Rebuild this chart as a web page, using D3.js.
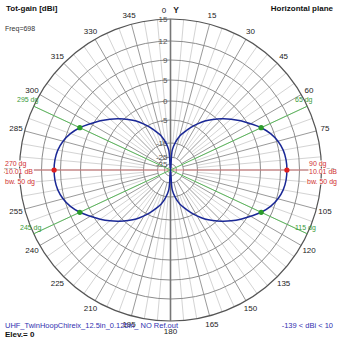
<!DOCTYPE html>
<html><head><meta charset="utf-8">
<script src="https://cdn.jsdelivr.net/npm/d3@7"></script>
<style>body{margin:0;background:#fff}svg{display:block}text{font-family:"Liberation Sans",Arial,sans-serif}</style>
</head><body>
<script>
// ---- data ----
const azimuths = [0,5,10,15,20,25,30,35,40,45,50,55,60,65,70,75,80,85,90,95,100,105,110,115,120,125,130,135,140,145,150,155,160,165,170,175,
                  180,185,190,195,200,205,210,215,220,225,230,235,240,245,250,255,260,265,270,275,280,285,290,295,300,305,310,315,320,325,330,335,340,345,350,355];
const gains = [-139,-20,-14.5,-11.5,-9.2,-6.5,-4.2,-2.4,-0.8,0.8,2.4,4.0,5.5,7.01,8.3,9.2,9.7,9.95,10.01,9.95,9.7,9.2,8.3,7.01,5.5,4.0,2.4,0.8,-0.8,-2.4,-4.2,-6.5,-9.2,-11.5,-14.5,-20,
               -139,-20,-14.5,-11.5,-9.2,-6.5,-4.2,-2.4,-0.8,0.8,2.4,4.0,5.5,7.01,8.3,9.2,9.7,9.95,10.01,9.95,9.7,9.2,8.3,7.01,5.5,4.0,2.4,0.8,-0.8,-2.4,-4.2,-6.5,-9.2,-11.5,-14.5,-20];
const ringValues = [15,12,9,5,0,-5,-15,-25,-35];
const azLabels = [0,15,30,45,60,75,90,105,120,135,150,165,180,195,210,225,240,255,270,285,300,315,330,345];
const maxMarkers = [90,270];
const bwMarkers = [65,115,245,295];
const maxGain = 10.01, beamwidth = 50;
const title = "Tot-gain [dBi]", plane = "Horizontal plane", freq = "Freq=698";
const fileName = "UHF_TwinHoopChireix_12.5in_0.125in_ NO Ref.out";
const rangeText = "-139 < dBi < 10", elevText = "Elev.= 0";

// ---- layout ----
const W = 339, H = 339, cx = 170.5, cy = 170, R = 151;
const svg = d3.select("body").append("svg").attr("width", W).attr("height", H);
const g = svg.append("g").attr("transform", `translate(${cx},${cy})`);

// piecewise radial dB scale (ARRL-like)
const r = d3.scaleLinear()
  .domain([-45,-35,-25,-15,-5,0,5,9,12,15])
  .range([0,6,13,27,50,69,90,110,129,151].map(v => v / 151 * R))
  .clamp(true);
const rad = a => a * Math.PI / 180;
const px = (a, rr) => rr * Math.sin(rad(a));
const py = (a, rr) => -rr * Math.cos(rad(a));

// spokes
d3.range(0, 360, 5).forEach(a => {
  if (a % 180 === 0) return;
  const major = a % 15 === 0;
  const r0 = major ? r(-25) : r(-15);
  g.append("line")
    .attr("x1", px(a, r0)).attr("y1", py(a, r0))
    .attr("x2", px(a, R)).attr("y2", py(a, R))
    .attr("stroke", major ? "#9a9a9a" : "#d4d4d4").attr("stroke-width", 1);
});
// rings
ringValues.slice(1).forEach(v => {
  g.append("circle").attr("r", r(v)).attr("fill", "none").attr("stroke", "#8c8c8c").attr("stroke-width", 1);
});
g.append("circle").attr("r", r(15)).attr("fill", "none").attr("stroke", "#555").attr("stroke-width", 1.2);
g.append("circle").attr("r", 3).attr("fill", "none").attr("stroke", "#d8c8a8").attr("stroke-width", 1);

// 0-180 axis
g.append("line").attr("x1", 0).attr("y1", -R).attr("x2", 0).attr("y2", R)
  .attr("stroke", "#777").attr("stroke-width", 1.6);

// marker lines
g.append("line").attr("x1", px(270, R)).attr("y1", py(270, R)).attr("x2", px(90, R)).attr("y2", py(90, R))
  .attr("stroke", "#d98080").attr("stroke-width", 1);
[[65,245],[115,295]].forEach(([a,b]) => {
  g.append("line").attr("x1", px(a, R)).attr("y1", py(a, R)).attr("x2", px(b, R)).attr("y2", py(b, R))
    .attr("stroke", "#5cb85c").attr("stroke-width", 1);
});

// azimuth labels
azLabels.forEach(a => {
  let x = px(a, 160), y = py(a, 160);
  if (a === 0) { x = -6.5; y = -160; }
  if (a === 180) { y = 161; }
  g.append("text").attr("x", x).attr("y", y).attr("text-anchor", "middle").attr("dominant-baseline", "central")
    .attr("font-size", 8).attr("fill", "#222").text(a);
});
g.append("text").attr("x", 5.5).attr("y", -160).attr("text-anchor", "middle").attr("dominant-baseline", "central")
  .attr("font-size", 8.5).attr("font-weight", "bold").attr("fill", "#222").text("Y");

// ring labels
ringValues.forEach(v => {
  g.append("text").attr("x", -3).attr("y", -r(v)).attr("text-anchor", "end").attr("dominant-baseline", "central")
    .attr("font-size", 8).attr("fill", "#555").text(v);
});

// pattern
const pts = azimuths.map((a, i) => [rad(a), r(gains[i])]);
const line = d3.lineRadial().angle(d => d[0]).radius(d => d[1]).curve(d3.curveCatmullRomClosed.alpha(0.5));
g.append("path").attr("d", line(pts)).attr("fill", "none").attr("stroke", "#1a2896").attr("stroke-width", 1.5);

// marker dots
const gainAt = a => gains[azimuths.indexOf(a)];
maxMarkers.forEach(a => {
  g.append("circle").attr("cx", px(a, r(gainAt(a)))).attr("cy", py(a, r(gainAt(a)))).attr("r", 2.6).attr("fill", "#e02020");
});
bwMarkers.forEach(a => {
  g.append("circle").attr("cx", px(a, r(gainAt(a)))).attr("cy", py(a, r(gainAt(a)))).attr("r", 2.6).attr("fill", "#2a9a2a");
});

// label helper with white background
function bgText(x, y, txt, color, size, anchor) {
  const t = svg.append("text").attr("x", x).attr("y", y).attr("text-anchor", anchor || "start")
    .attr("dominant-baseline", "central").attr("font-size", size).attr("fill", color).text(txt);
  const bb = t.node().getBBox();
  svg.insert("rect", function(){ return t.node(); })
    .attr("x", bb.x - 0.5).attr("y", bb.y + 1).attr("width", bb.width + 1).attr("height", bb.height - 2).attr("fill", "#fff");
  return t;
}
// max markers text
bgText(5, 163, "270 dg", "#d03030", 7);
bgText(5, 171, maxGain.toFixed(2) + " dB", "#d03030", 7);
bgText(5, 181, "bw. " + beamwidth + " dg", "#d03030", 7);
bgText(309, 163, "90 dg", "#d03030", 7);
bgText(309, 171, maxGain.toFixed(2) + " dB", "#d03030", 7);
bgText(307, 181, "bw. " + beamwidth + " dg", "#d03030", 7);
// bw markers text
svg.append("text").attr("x", 17).attr("y", 99).attr("dominant-baseline", "central").attr("font-size", 7).attr("fill", "#3a9a3a").text("295 dg");
svg.append("text").attr("x", 295).attr("y", 99).attr("dominant-baseline", "central").attr("font-size", 7).attr("fill", "#3a9a3a").text("65 dg");
svg.append("text").attr("x", 20).attr("y", 227).attr("dominant-baseline", "central").attr("font-size", 7).attr("fill", "#3a9a3a").text("245 dg");
svg.append("text").attr("x", 295).attr("y", 227).attr("dominant-baseline", "central").attr("font-size", 7).attr("fill", "#3a9a3a").text("115 dg");

// header / footer
svg.append("text").attr("x", 6).attr("y", 8).attr("dominant-baseline", "central").attr("font-size", 8).attr("font-weight", "bold").attr("fill", "#111").text(title);
svg.append("text").attr("x", 333).attr("y", 8).attr("text-anchor", "end").attr("dominant-baseline", "central").attr("font-size", 8).attr("font-weight", "bold").attr("fill", "#111").text(plane);
svg.append("text").attr("x", 5).attr("y", 28).attr("dominant-baseline", "central").attr("font-size", 7).attr("fill", "#333").text(freq);
svg.append("text").attr("x", 5).attr("y", 325).attr("dominant-baseline", "central").attr("font-size", 7.5).attr("fill", "#3030b0")
  .attr("textLength", 173).attr("lengthAdjust", "spacingAndGlyphs").text(fileName);
svg.append("text").attr("x", 333).attr("y", 325).attr("text-anchor", "end").attr("dominant-baseline", "central").attr("font-size", 7.5).attr("fill", "#3030b0").text(rangeText);
svg.append("text").attr("x", 5).attr("y", 334).attr("dominant-baseline", "central").attr("font-size", 8).attr("font-weight", "bold").attr("fill", "#111").text(elevText);
</script>
</body></html>
